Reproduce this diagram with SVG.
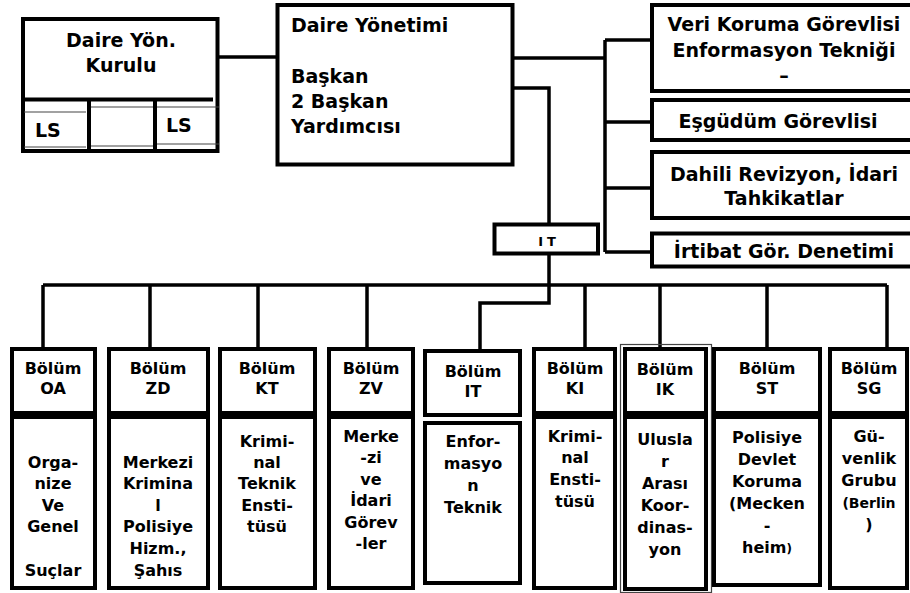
<svg xmlns="http://www.w3.org/2000/svg" width="910" height="593" viewBox="0 0 910 593">
<style>
rect.b{fill:#fff;stroke:#000;stroke-width:4}
.thin{fill:none;stroke:#444;stroke-width:1.2}
#connectors path{fill:none;stroke:#000;stroke-width:3.5}
text{font-family:"DejaVu Sans","Liberation Sans",sans-serif;font-weight:bold;fill:#000}
.t{font-size:19px}
.s{font-size:16px;text-anchor:middle}
.c{text-anchor:middle}
</style>
<rect width="910" height="593" fill="#fff"/>
<g id="connectors">
<path d="M217 57H278"/>
<path d="M512 58H605"/>
<path d="M605 40V252M605 40H652M605 122H652M605 188H652M605 252H652"/>
<path d="M512 88H549V224"/>
<path d="M549 253V303H480V350"/>
<path d="M43 285H887"/>
<path d="M43 285V348M150 285V348M258 285V348M367 285V348M585 285V348M660 285V348M767 285V348M887 285V348"/>
</g>
<g id="kurulu">
<rect class="b" x="23" y="19" width="194.5" height="132"/>
<path class="thin" d="M24 112H86M24 147H86M91 107H153M91 146H153M157 107H219M157 144H219"/>
<path d="M23 99.5H213M89 99.5V151M155 99.5V151" stroke="#000" stroke-width="4"/>
<text class="t c" x="121" y="47">Daire Yön.</text>
<text class="t c" x="121" y="72">Kurulu</text>
<text class="t" x="35" y="137">LS</text>
<text class="t" x="166" y="132">LS</text>
</g>
<g id="yonetim">
<rect class="b" x="277.5" y="5" width="235" height="159.5"/>
<text class="t" x="291" y="32">Daire Yönetimi</text>
<text class="t" x="291" y="83">Başkan</text>
<text class="t" x="291" y="108">2 Başkan</text>
<text class="t" x="291" y="133">Yardımcısı</text>
</g>
<g id="veri">
<rect class="b" x="652" y="5" width="262" height="86"/>
<text class="t c" x="784" y="31">Veri Koruma Görevlisi</text>
<text class="t c" x="784" y="57">Enformasyon Tekniği</text>
<text class="t c" x="784" y="82">–</text>
</g>
<g id="esgudum">
<rect class="b" x="652" y="100" width="262" height="40"/>
<text class="t c" x="778" y="128">Eşgüdüm Görevlisi</text>
</g>
<g id="dahili">
<rect class="b" x="652" y="152" width="262" height="66"/>
<text class="t c" x="784" y="181">Dahili Revizyon, İdari</text>
<text class="t c" x="784" y="205">Tahkikatlar</text>
</g>
<g id="irtibat">
<rect class="b" x="652" y="233.5" width="262" height="33"/>
<text class="t c" x="784" y="258">İrtibat Gör. Denetimi</text>
</g>
<g id="it">
<rect class="b" x="494.5" y="224.5" width="103.5" height="29"/>
<text x="549" y="246" style="font-size:13px;text-anchor:middle;letter-spacing:4px">IT</text>
</g>
<g id="oa">
<rect class="b" x="12" y="349" width="83" height="64"/>
<rect class="b" x="12" y="417" width="83" height="171"/>
<text class="s" x="53" y="374">Bölüm</text><text class="s" x="53" y="394">OA</text>
<text class="s" x="53" y="468">Orga-</text><text class="s" x="53" y="489">nize</text><text class="s" x="53" y="511">Ve</text><text class="s" x="53" y="532">Genel</text><text class="s" x="53" y="576">Suçlar</text>
</g>
<g id="zd">
<rect class="b" x="109" y="349" width="99" height="64"/>
<rect class="b" x="109" y="417" width="99" height="171"/>
<text class="s" x="158" y="374">Bölüm</text><text class="s" x="158" y="394">ZD</text>
<text class="s" x="158" y="468">Merkezi</text><text class="s" x="158" y="489">Krimina</text><text class="s" x="158" y="511">l</text><text class="s" x="158" y="532">Polisiye</text><text class="s" x="158" y="554">Hizm.,</text><text class="s" x="158" y="576">Şahıs</text>
</g>
<g id="kt">
<rect class="b" x="220" y="349" width="95" height="64"/>
<rect class="b" x="220" y="417" width="95" height="171"/>
<text class="s" x="267" y="374">Bölüm</text><text class="s" x="267" y="394">KT</text>
<text class="s" x="267" y="447">Krimi-</text><text class="s" x="267" y="468">nal</text><text class="s" x="267" y="489">Teknik</text><text class="s" x="267" y="511">Ensti-</text><text class="s" x="267" y="532">tüsü</text>
</g>
<g id="zv">
<rect class="b" x="329" y="349" width="84" height="64"/>
<rect class="b" x="329" y="417" width="84" height="171"/>
<text class="s" x="371" y="374">Bölüm</text><text class="s" x="371" y="394">ZV</text>
<text class="s" x="371" y="442">Merke</text><text class="s" x="371" y="463">-zi</text><text class="s" x="371" y="485">ve</text><text class="s" x="371" y="506">İdari</text><text class="s" x="371" y="528">Görev</text><text class="s" x="371" y="549">-ler</text>
</g>
<g id="bit">
<rect class="b" x="425" y="351" width="95" height="64"/>
<rect class="b" x="425" y="423" width="95" height="160"/>
<text class="s" x="473" y="377">Bölüm</text><text class="s" x="473" y="397">IT</text>
<text class="s" x="473" y="447">Enfor-</text><text class="s" x="473" y="469">masyo</text><text class="s" x="473" y="491">n</text><text class="s" x="473" y="513">Teknik</text>
</g>
<g id="ki">
<rect class="b" x="534" y="349" width="81" height="64"/>
<rect class="b" x="534" y="417" width="81" height="171"/>
<text class="s" x="575" y="374">Bölüm</text><text class="s" x="575" y="394">KI</text>
<text class="s" x="575" y="442">Krimi-</text><text class="s" x="575" y="463">nal</text><text class="s" x="575" y="485">Ensti-</text><text class="s" x="575" y="507">tüsü</text>
</g>
<g id="ik">
<rect class="thin" x="620.5" y="344.5" width="91" height="248"/>
<rect class="b" x="625" y="349" width="81" height="64"/>
<rect class="b" x="625" y="417" width="81" height="172"/>
<text class="s" x="665" y="375">Bölüm</text><text class="s" x="665" y="395">IK</text>
<text class="s" x="665" y="445">Ulusla</text><text class="s" x="665" y="467">r</text><text class="s" x="665" y="489">Arası</text><text class="s" x="665" y="511">Koor-</text><text class="s" x="665" y="533">dinas-</text><text class="s" x="665" y="555">yon</text>
</g>
<g id="st">
<rect class="b" x="714" y="349" width="106" height="64"/>
<rect class="b" x="714" y="417" width="106" height="168"/>
<text class="s" x="767" y="374">Bölüm</text><text class="s" x="767" y="394">ST</text>
<text class="s" x="767" y="443">Polisiye</text><text class="s" x="767" y="465">Devlet</text><text class="s" x="767" y="487">Koruma</text><text class="s" x="767" y="509">(Mecken</text><text class="s" x="767" y="531">-</text><text class="s" x="767" y="553">heim<tspan style="font-size:12px">)</tspan></text>
</g>
<g id="sg">
<rect class="b" x="830" y="349" width="77" height="64"/>
<rect class="b" x="830" y="417" width="77" height="171"/>
<text class="s" x="869" y="374">Bölüm</text><text class="s" x="869" y="394">SG</text>
<text class="s" x="869" y="442">Gü-</text><text class="s" x="869" y="464">venlik</text><text class="s" x="869" y="486">Grubu</text><text class="s" x="869" y="508" style="font-size:14px">(Berlin</text><text class="s" x="869" y="530">)</text>
</g>
</svg>
